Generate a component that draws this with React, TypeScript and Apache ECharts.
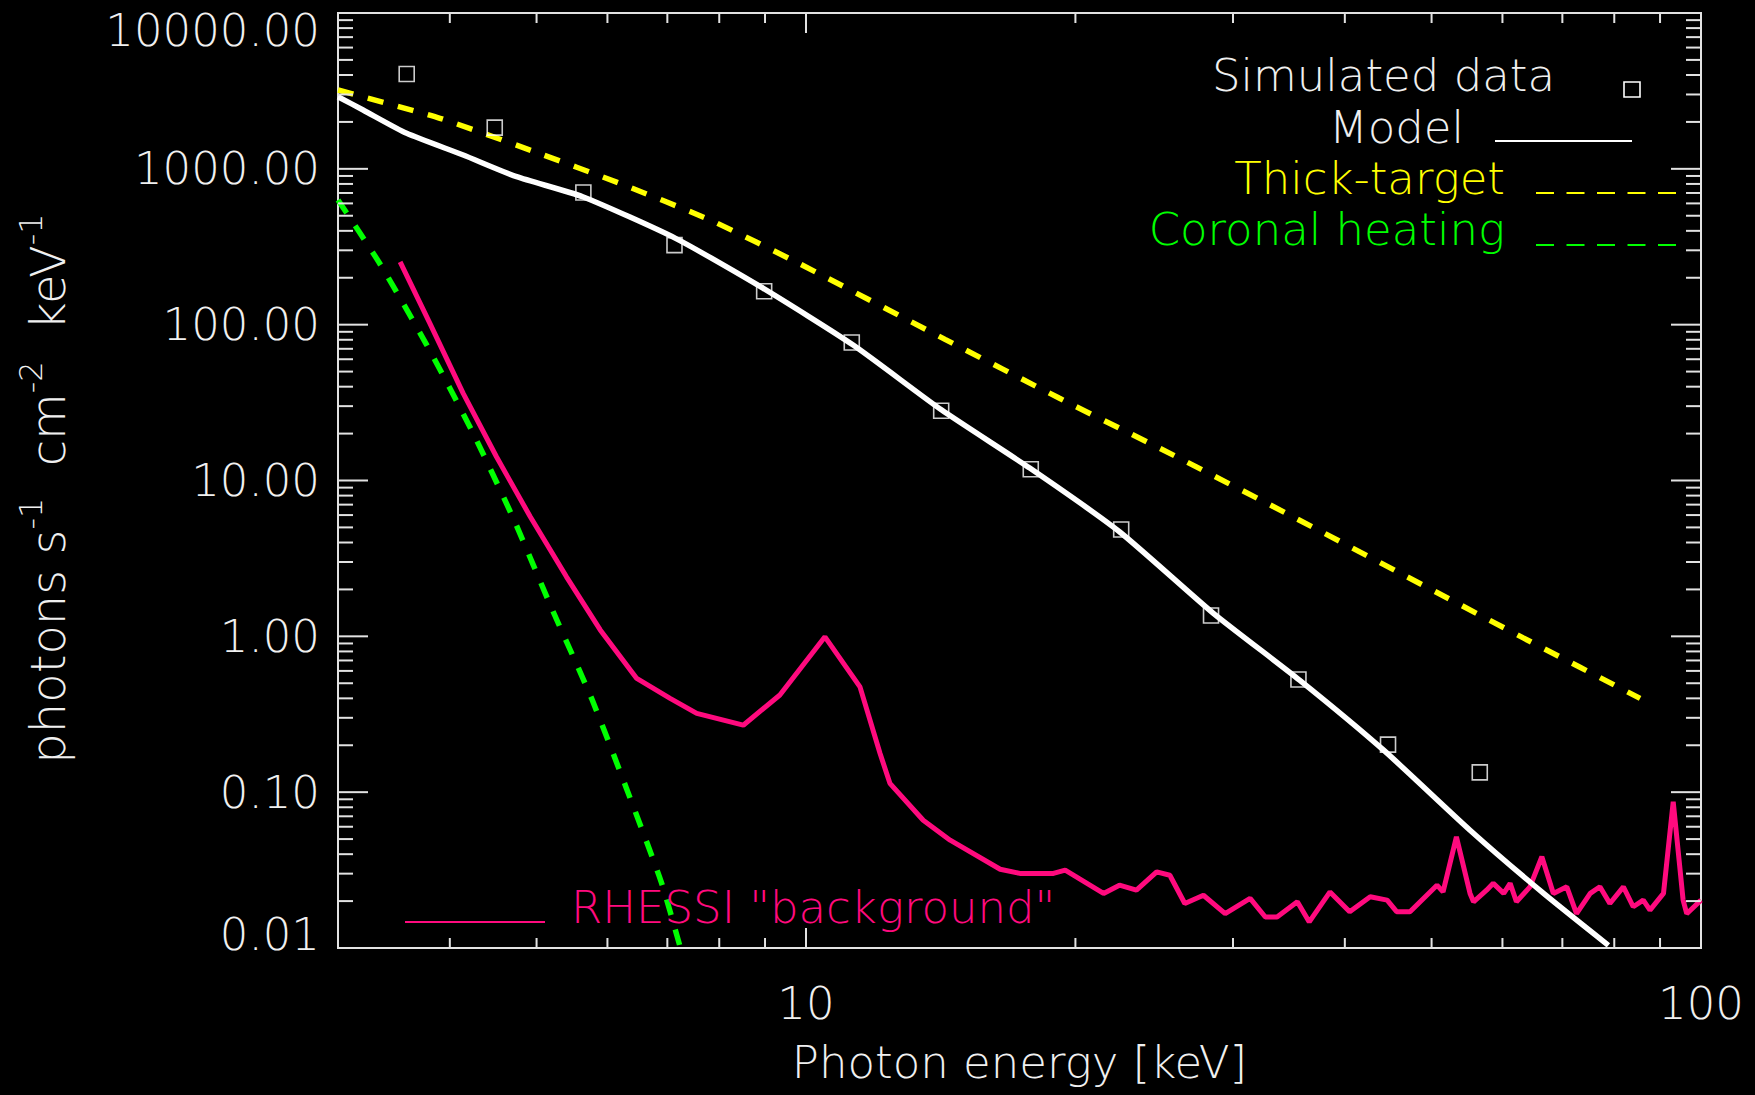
import React, { useEffect, useRef } from 'react';
import * as echarts from 'echarts';

// ---------------- data ----------------
const SIM_E = [3.58, 4.49, 5.64, 7.13, 8.98, 11.25, 14.16, 17.83, 22.5, 28.35, 35.5, 44.7, 56.6];
const SIM_F = [4064, 1838, 705, 324, 164, 76.8, 28.0, 11.8, 4.85, 1.36, 0.528, 0.202, 0.134];

const MODEL_E = [3.0, 3.2, 3.58, 4.14, 4.75, 5.63, 7.15, 8.96, 11.29, 14.18, 17.8, 22.4, 28.5, 35.6, 44.2, 55.2, 66.7, 78.8];
const MODEL_F = [2903, 2385, 1690, 1227, 890, 662, 358, 171, 74, 28.3, 11.97, 4.69, 1.41, 0.524, 0.186, 0.057, 0.0224, 0.0104];

const THICK_E = [3.0, 3.9, 4.94, 6.22, 7.85, 9.85, 14.3, 19.2, 25.95, 35.0, 50.7, 63.3, 85.5];
const THICK_F = [3206, 2110, 1307, 799, 464, 245, 80.5, 33.7, 14.2, 5.85, 1.91, 0.977, 0.40];

const CORONAL_E = [3.0, 3.34, 3.77, 4.24, 4.71, 5.21, 5.76, 6.3, 6.89, 7.24];
const CORONAL_F = [631, 247, 74, 20.5, 5.71, 1.47, 0.40, 0.106, 0.0266, 0.01];

const BG_E = [3.52, 3.8, 4.14, 4.51, 4.92, 5.4, 5.89, 6.47, 7.05, 7.55, 8.51, 9.35, 10.5, 11.49, 12.1, 12.41,
  13.52, 14.49, 16.48, 17.34, 18.9, 19.48, 21.5, 22.4, 23.4, 24.65, 25.5, 26.5, 27.8, 29.4, 31.35, 32.6, 33.6,
  35.4, 36.5, 38.5, 40.5, 42.7, 44.6, 45.7, 47.3, 50.7, 51.5, 53.3, 55.2, 55.7, 57.6, 58.6, 60.2, 61.2, 62.2,
  64.4, 66.4, 68.4, 70.8, 72.6, 75.2, 77.1, 79.1, 81.9, 84.0, 86.2, 87.7, 90.8, 93.1, 95.5, 96.4, 100];
const BG_F = [253, 102, 36.2, 14.2, 5.85, 2.41, 1.10, 0.537, 0.40, 0.32, 0.269, 0.42, 0.993, 0.474, 0.177, 0.114,
  0.066, 0.0492, 0.032, 0.0301, 0.0301, 0.0316, 0.0224, 0.0253, 0.0235, 0.0308, 0.0293, 0.0193, 0.0218, 0.0166, 0.0208, 0.0158, 0.0158,
  0.0198, 0.0147, 0.0229, 0.0171, 0.0213, 0.0203, 0.0171, 0.0171, 0.0253, 0.0229, 0.0516, 0.0224, 0.0198, 0.0235, 0.026, 0.0224, 0.026, 0.0198,
  0.0247, 0.0385, 0.0224, 0.0247, 0.0166, 0.0224, 0.0247, 0.0193, 0.0247, 0.0184, 0.0203, 0.0175, 0.0224, 0.0867, 0.0203, 0.0166, 0.0203];

// axes
const X_MIN = 3;
const X_MAX = 100;
const Y_MIN = 0.01;
const Y_MAX = 10000;
const X_LABELS = [10, 100];
const Y_LABELS = [0.01, 0.1, 1, 10, 100, 1000, 10000];
const X_MAJOR_TICKS = [10, 100];
const X_MINOR_TICKS = [4, 5, 6, 7, 8, 9, 20, 30, 40, 50, 60, 70, 80, 90];
const Y_MAJOR_TICKS = [0.01, 0.1, 1, 10, 100, 1000, 10000];
const Y_MINOR_TICKS = [
  0.02, 0.03, 0.04, 0.05, 0.06, 0.07, 0.08, 0.09,
  0.2, 0.3, 0.4, 0.5, 0.6, 0.7, 0.8, 0.9,
  2, 3, 4, 5, 6, 7, 8, 9,
  20, 30, 40, 50, 60, 70, 80, 90,
  200, 300, 400, 500, 600, 700, 800, 900,
  2000, 3000, 4000, 5000, 6000, 7000, 8000, 9000,
];

// ---------------- styles ----------------
const AX = '#e2e2e2';
const TXT = '#f0f0f0';
const YELLOW = '#ffff00';
const GREEN = '#00ff00';
const PINK = '#ff0a7e';
const FONT = '"DejaVu Sans", "Noto Sans", sans-serif';
const FW = 200;

const pairs = (xs: number[], ys: number[]) => xs.map((x, i) => [x, ys[i]]);

function isDecade(v: number) {
  const l = Math.log10(v);
  return Math.abs(l - Math.round(l)) < 1e-6;
}

function buildOption() {
  const xTickData = [
    ...X_MAJOR_TICKS.map((v) => [v, 1, 20]),
    ...X_MINOR_TICKS.map((v) => [v, 1, 10]),
  ];
  const yTickData = [
    ...Y_MAJOR_TICKS.map((v) => [X_MIN, v, 30]),
    ...Y_MINOR_TICKS.map((v) => [X_MIN, v, 15]),
  ];

  const labelFont = { fontFamily: FONT, fontSize: 45, fontWeight: FW, color: TXT };

  return {
    animation: false,
    backgroundColor: '#000',
    grid: {
      left: 338,
      top: 13,
      width: 1363,
      height: 935,
      show: true,
      borderColor: AX,
      borderWidth: 2,
      backgroundColor: 'transparent',
      containLabel: false,
      outerBoundsMode: 'none',
    },
    xAxis: {
      type: 'log',
      logBase: 10,
      min: X_MIN,
      max: X_MAX,
      splitNumber: 2,
      axisLine: { show: false },
      axisTick: { show: false },
      minorTick: { show: false },
      splitLine: { show: false },
      axisLabel: {
        ...labelFont,
        margin: 33,
        formatter: (v: number) => {
          if (!isDecade(v)) return '';
          const r = Math.round(v);
          return X_LABELS.includes(r) ? String(r) : '';
        },
      },
      name: 'Photon energy [keV]',
      nameLocation: 'middle',
      nameGap: 92,
      nameMoveOverlap: false,
      nameTextStyle: { ...labelFont },
    },
    yAxis: {
      type: 'log',
      logBase: 10,
      min: Y_MIN,
      max: Y_MAX,
      splitNumber: 6,
      axisLine: { show: false },
      axisTick: { show: false },
      minorTick: { show: false },
      splitLine: { show: false },
      axisLabel: {
        ...labelFont,
        margin: 18,
        formatter: (v: number) => {
          if (!isDecade(v)) return '';
          const l = Math.round(Math.log10(v));
          const val = Math.pow(10, l);
          if (!Y_LABELS.some((y) => Math.abs(y - val) / y < 1e-6)) return '';
          const s = val.toFixed(2);
          if (l === 4) return `{top|${s}}`;
          if (l === -2) return `{bot|${s}}`;
          return s;
        },
        rich: {
          top: { ...labelFont, padding: [34, 0, 0, 0] },
          bot: { ...labelFont, padding: [0, 0, 28, 0] },
        },
      },
      name: 'photons s{sup|-1} cm{sup|-2} keV{sup|-1}',
      nameLocation: 'middle',
      nameRotate: 90,
      nameGap: 257,
      nameMoveOverlap: false,
      nameTextStyle: {
        fontFamily: FONT,
        fontSize: 48,
        fontWeight: FW,
        color: TXT,
        lineHeight: 66,
        rich: {
          sup: {
            fontFamily: FONT,
            fontSize: 32,
            fontWeight: FW,
            color: TXT,
            lineHeight: 30,
            verticalAlign: 'top',
            padding: [0, 16, 0, 0],
          },
        },
      },
    },
    series: [
      {
        type: 'line',
        name: 'Thick-target',
        data: pairs(THICK_E, THICK_F),
        symbol: 'none',
        showSymbol: false,
        smooth: 0.2,
        lineStyle: { color: YELLOW, width: 5.5, type: [16, 15], cap: 'butt' },
        z: 3,
      },
      {
        type: 'line',
        name: 'Coronal heating',
        data: pairs(CORONAL_E, CORONAL_F),
        symbol: 'none',
        showSymbol: false,
        smooth: 0.2,
        lineStyle: { color: GREEN, width: 5.5, type: [16, 15], cap: 'butt' },
        z: 3,
      },
      {
        type: 'line',
        name: 'RHESSI "background"',
        data: pairs(BG_E, BG_F),
        symbol: 'none',
        showSymbol: false,
        lineStyle: { color: PINK, width: 5 },
        z: 3,
      },
      {
        type: 'line',
        name: 'Model',
        data: pairs(MODEL_E, MODEL_F),
        symbol: 'none',
        showSymbol: false,
        smooth: 0.2,
        lineStyle: { color: '#ffffff', width: 5.5 },
        z: 4,
      },
      {
        type: 'scatter',
        name: 'Simulated data',
        data: pairs(SIM_E, SIM_F),
        symbol: 'rect',
        symbolSize: 15,
        itemStyle: { color: 'rgba(0,0,0,0)', borderColor: '#ffffff', borderWidth: 1.6 },
        z: 5,
      },
      {
        type: 'custom',
        name: 'xticks',
        silent: true,
        clip: false,
        data: xTickData,
        encode: { x: 0, y: 1 },
        renderItem: (_p: any, api: any) => {
          const x = api.value(0);
          const len = api.value(2);
          const b = api.coord([x, Y_MIN]);
          const t = api.coord([x, Y_MAX]);
          const st = { stroke: AX, lineWidth: 2 };
          return {
            type: 'group',
            children: [
              { type: 'line', shape: { x1: b[0], y1: b[1], x2: b[0], y2: b[1] - len }, style: st },
              { type: 'line', shape: { x1: t[0], y1: t[1], x2: t[0], y2: t[1] + len }, style: st },
            ],
          };
        },
        z: 6,
      },
      {
        type: 'custom',
        name: 'yticks',
        silent: true,
        clip: false,
        data: yTickData,
        encode: { x: 0, y: 1 },
        renderItem: (_p: any, api: any) => {
          const y = api.value(1);
          const len = api.value(2);
          const l = api.coord([X_MIN, y]);
          const r = api.coord([X_MAX, y]);
          const st = { stroke: AX, lineWidth: 2 };
          return {
            type: 'group',
            children: [
              { type: 'line', shape: { x1: l[0], y1: l[1], x2: l[0] + len, y2: l[1] }, style: st },
              { type: 'line', shape: { x1: r[0], y1: r[1], x2: r[0] - len, y2: r[1] }, style: st },
            ],
          };
        },
        z: 6,
      },
    ],
    graphic: [
      // legend (top right)
      {
        type: 'text', x: 1555, y: 75, z: 10,
        style: { text: 'Simulated data', fill: TXT, fontFamily: FONT, fontSize: 45, fontWeight: FW, align: 'right', verticalAlign: 'middle' },
      },
      {
        type: 'rect', z: 10,
        shape: { x: 1624, y: 82, width: 16, height: 15 },
        style: { fill: 'rgba(0,0,0,0)', stroke: '#ffffff', lineWidth: 1.6 },
      },
      {
        type: 'text', x: 1464, y: 127, z: 10,
        style: { text: 'Model', fill: TXT, fontFamily: FONT, fontSize: 45, fontWeight: FW, align: 'right', verticalAlign: 'middle' },
      },
      {
        type: 'line', z: 10,
        shape: { x1: 1495, y1: 141, x2: 1632, y2: 141 },
        style: { stroke: '#ffffff', lineWidth: 2 },
      },
      {
        type: 'text', x: 1505, y: 178, z: 10,
        style: { text: 'Thick-target', fill: YELLOW, fontFamily: FONT, fontSize: 45, fontWeight: FW, align: 'right', verticalAlign: 'middle' },
      },
      {
        type: 'line', z: 10,
        shape: { x1: 1536, y1: 193, x2: 1676, y2: 193 },
        style: { stroke: YELLOW, lineWidth: 2, lineDash: [18, 12.5] },
      },
      {
        type: 'text', x: 1505, y: 229, z: 10,
        style: { text: 'Coronal heating', fill: GREEN, fontFamily: FONT, fontSize: 45, fontWeight: FW, align: 'right', verticalAlign: 'middle' },
      },
      {
        type: 'line', z: 10,
        shape: { x1: 1536, y1: 245, x2: 1676, y2: 245 },
        style: { stroke: GREEN, lineWidth: 2, lineDash: [18, 12.5] },
      },
      // legend (bottom left)
      {
        type: 'line', z: 10,
        shape: { x1: 405, y1: 922, x2: 545, y2: 922 },
        style: { stroke: PINK, lineWidth: 2 },
      },
      {
        type: 'text', x: 571, y: 907, z: 10,
        style: { text: 'RHESSI "background"', fill: PINK, fontFamily: FONT, fontSize: 45, fontWeight: FW, align: 'left', verticalAlign: 'middle' },
      },
    ],
  };
}

export default function App() {
  const ref = useRef<HTMLDivElement>(null);
  useEffect(() => {
    if (!ref.current) return;
    const chart = echarts.init(ref.current, null, { renderer: 'svg', width: 1755, height: 1095 });
    chart.setOption(buildOption() as any);
    return () => {
      chart.dispose();
    };
  }, []);
  return (
    <div
      ref={ref}
      style={{ position: 'fixed', left: 0, top: 0, width: 1755, height: 1095, background: '#000' }}
    />
  );
}
